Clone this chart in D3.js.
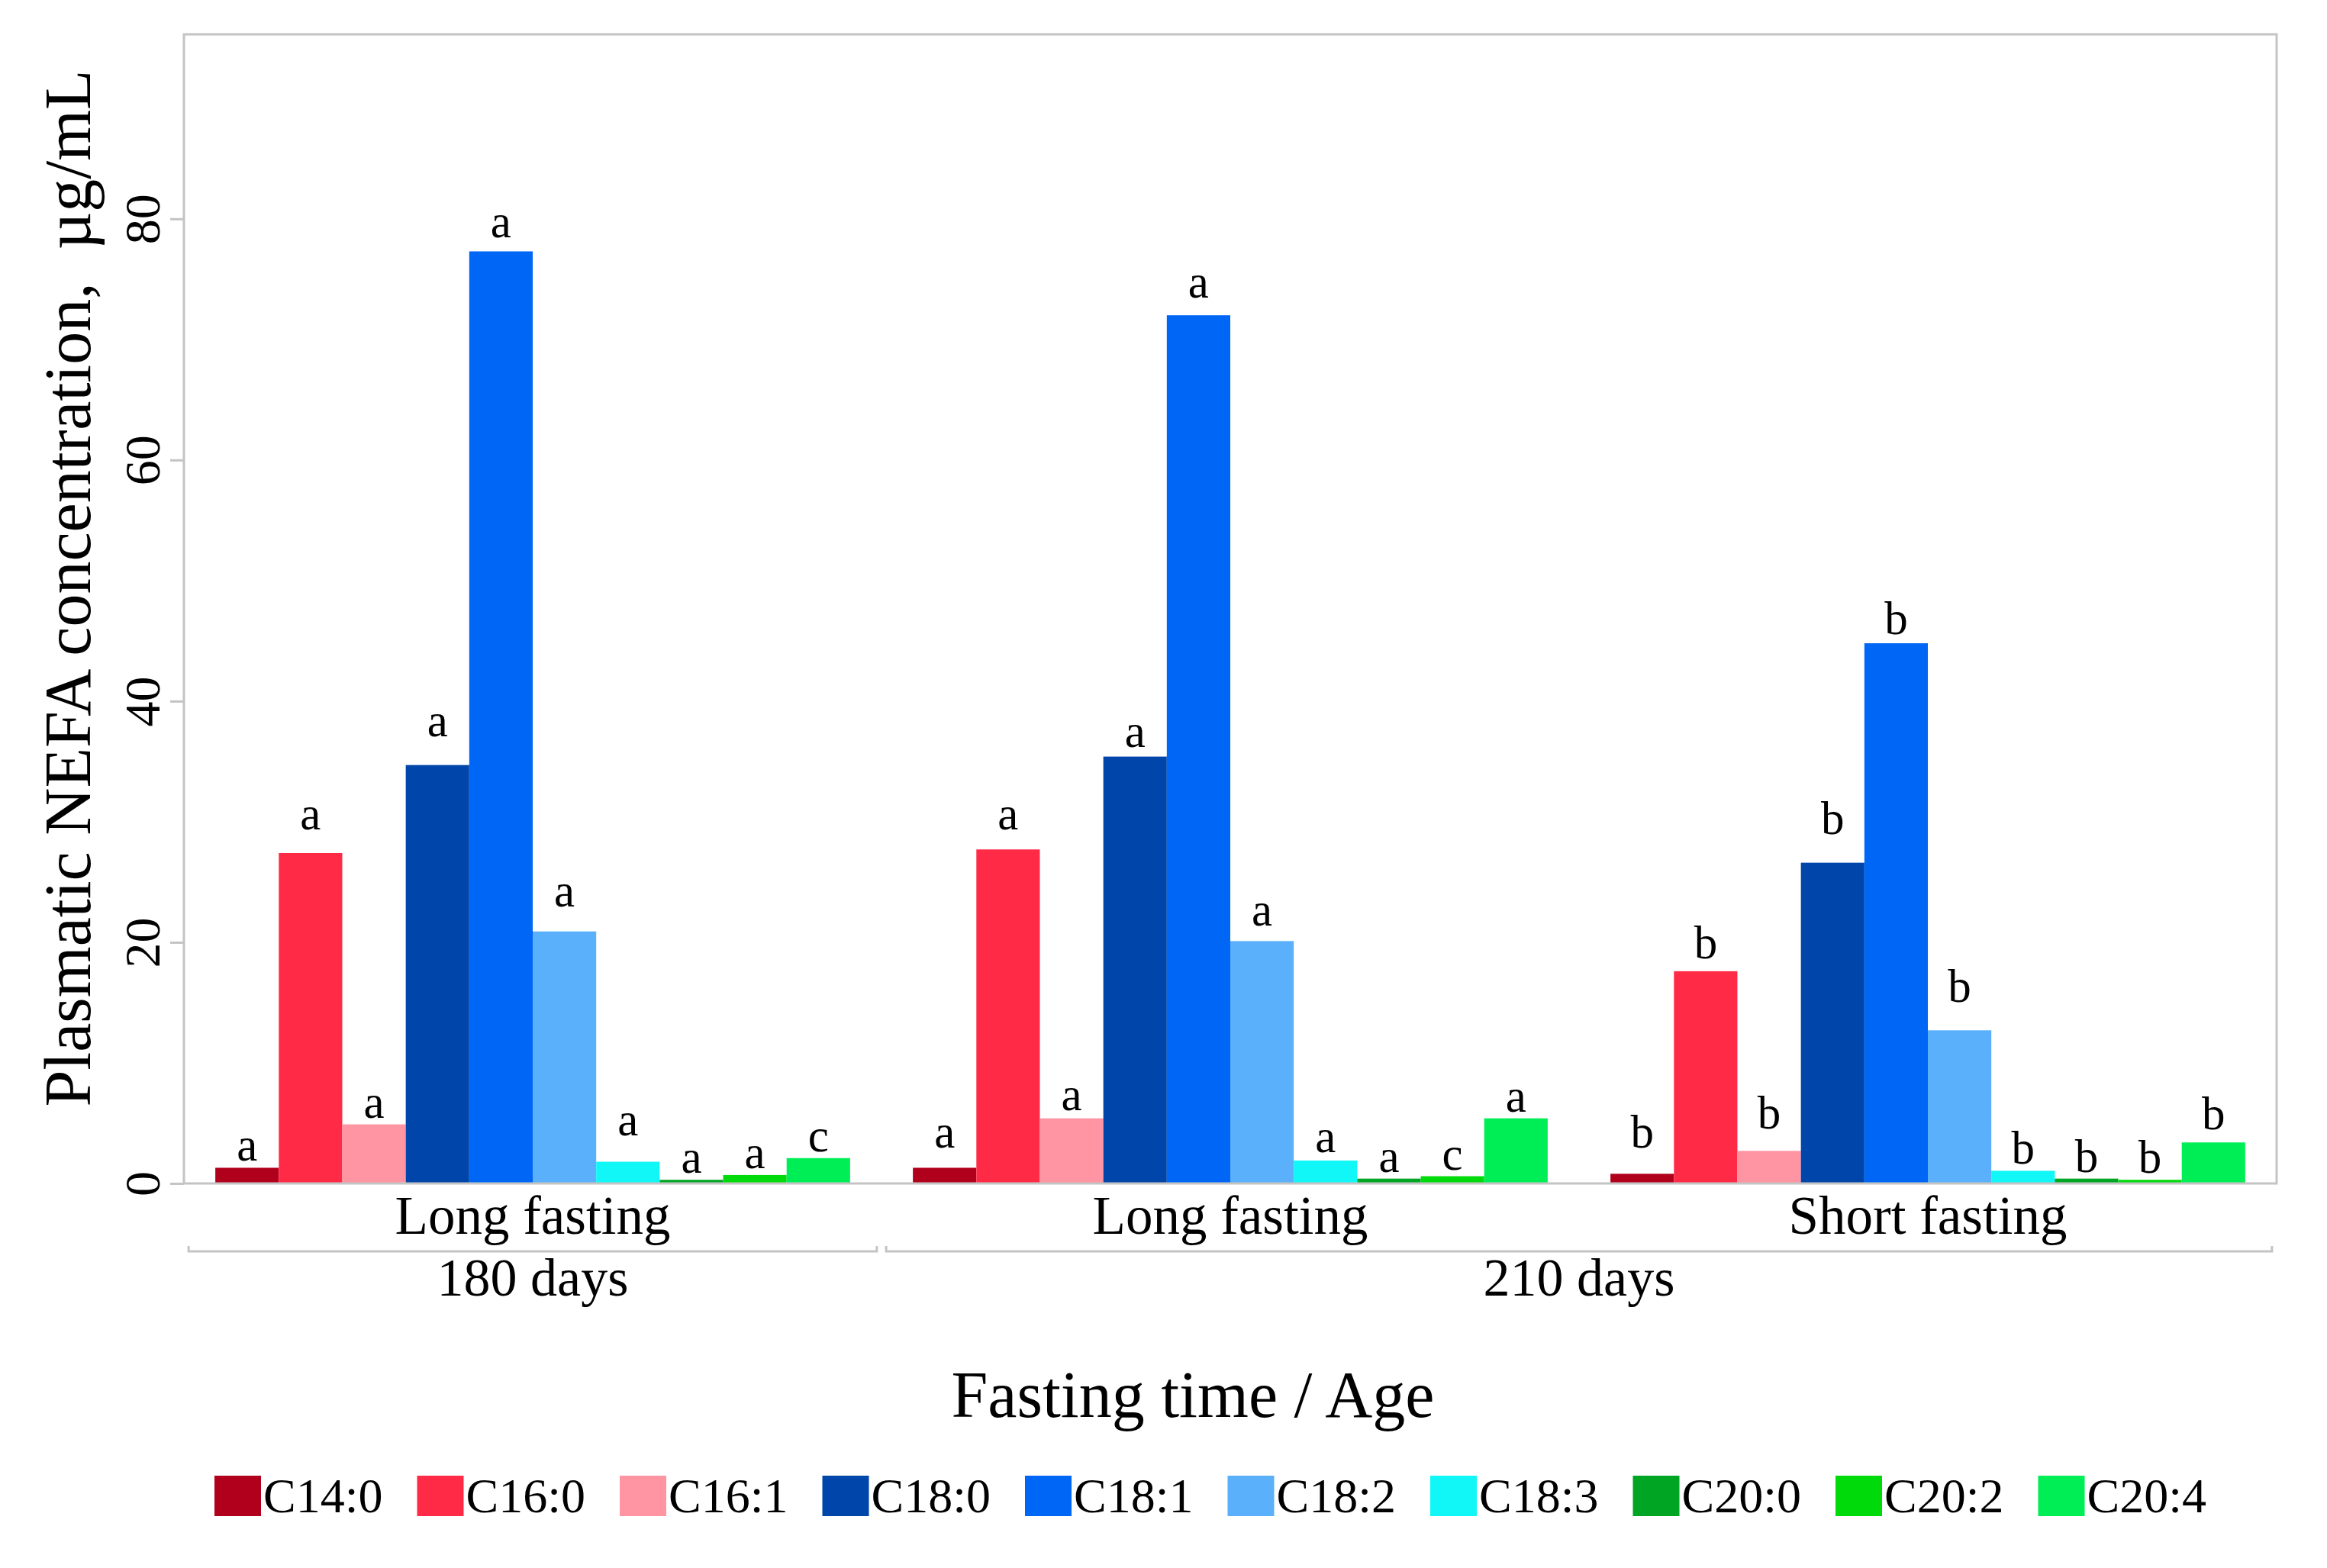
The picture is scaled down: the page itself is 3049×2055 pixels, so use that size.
<!DOCTYPE html>
<html>
<head>
<meta charset="utf-8">
<script src="https://cdn.jsdelivr.net/npm/d3@7"></script>
<style>
  html, body { margin: 0; padding: 0; background: #fff; }
  svg { display: block; }
  text { font-family: "Liberation Serif", "Times New Roman", serif; fill: #000; }
</style>
</head>
<body>
<svg id="chart" width="3049" height="2055"></svg>
<script>
// ---------------- DATA ----------------
const groups = ["180-LF", "210-LF", "210-SF"];
const groupLabels = ["Long fasting", "Long fasting", "Short fasting"];
const ageLabels = ["180 days", "210 days"];
const ageSpans = [[0, 0], [1, 2]];
const series = ["C14:0", "C16:0", "C16:1", "C18:0", "C18:1", "C18:2", "C18:3", "C20:0", "C20:2", "C20:4"];
const colors = ["#B0001C", "#FF2A45", "#FF94A3", "#0046AA", "#0066F5", "#5AB0FA", "#11F7F7", "#00A523", "#00DA0A", "#00EE55"];

const values180Long = [1.3, 27.4, 4.9, 34.7, 77.3, 20.9, 1.8, 0.3, 0.7, 2.1];
const values210Long = [1.3, 27.7, 5.4, 35.4, 72.0, 20.1, 1.9, 0.4, 0.6, 5.4];
const values210Short = [0.8, 17.6, 2.7, 26.6, 44.8, 12.7, 1.05, 0.4, 0.3, 3.4];

const sem180Long = [0.0, 1.4, 0.0, 1.8, 0.6, 1.5, 1.6, 0.0, 0.0, 0.0];
const sem210Long = [1.1, 1.1, 0.1, 0.2, 0.9, 0.7, 0.1, 0.0, 0.0, 0.0];
const sem210Short = [1.6, 0.5, 1.3, 1.8, 0.2, 1.8, 0.0, 0.0, 0.0, 0.5];

const letters180Long = ["a", "a", "a", "a", "a", "a", "a", "a", "a", "c"];
const letters210Long = ["a", "a", "a", "a", "a", "a", "a", "a", "c", "a"];
const letters210Short = ["b", "b", "b", "b", "b", "b", "b", "b", "b", "b"];

const yTicks = [0, 20, 40, 60, 80];
const yMax = 95.3;
const yTitle = "Plasmatic NEFA concentration,  \u00B5g/mL";
const xTitle = "Fasting time / Age";

// ---------------- LAYOUT ----------------
const W = 3049, H = 2055;
const plot = { left: 241, right: 2983, top: 45, bottom: 1551 };
const svg = d3.select("#chart");
svg.append("rect").attr("width", W).attr("height", H).attr("fill", "#fff");

const valueTable = [values180Long, values210Long, values210Short];
const semTable = [sem180Long, sem210Long, sem210Short];
const letterTable = [letters180Long, letters210Long, letters210Short];

const x0 = d3.scaleBand().domain(groups).range([plot.left, plot.right])
  .paddingInner(0.09).paddingOuter(0.045);
const x1 = d3.scaleBand().domain(series).range([0, x0.bandwidth()]).padding(0);
const y = d3.scaleLinear().domain([0, yMax]).range([plot.bottom, plot.top]);
const color = d3.scaleOrdinal().domain(series).range(colors);

const frameColor = "#c4c4c4";

// bars
const data = [];
groups.forEach((g, gi) => {
  series.forEach((s, si) => {
    data.push({ g, s, v: valueTable[gi][si], se: semTable[gi][si], l: letterTable[gi][si] });
  });
});

const barG = svg.append("g");
barG.selectAll("rect").data(data).join("rect")
  .attr("x", d => x0(d.g) + x1(d.s))
  .attr("y", d => y(d.v))
  .attr("width", x1.bandwidth())
  .attr("height", d => y(0) - y(d.v))
  .attr("fill", d => color(d.s));

// letters
barG.selectAll("text").data(data).join("text")
  .attr("x", d => x0(d.g) + x1(d.s) + x1.bandwidth() / 2)
  .attr("y", d => y(d.v + d.se) - 9)
  .attr("text-anchor", "middle")
  .attr("font-size", 61)
  .text(d => d.l);

// frame (top, right, left, bottom)
svg.append("rect")
  .attr("x", plot.left).attr("y", plot.top)
  .attr("width", plot.right - plot.left).attr("height", plot.bottom - plot.top)
  .attr("fill", "none").attr("stroke", frameColor).attr("stroke-width", 3);

// y axis
const yAxis = d3.axisLeft(y).tickValues(yTicks).tickSize(18).tickPadding(10).tickFormat(d3.format("d"));
const yAx = svg.append("g").attr("transform", `translate(${plot.left},0)`).call(yAxis);
yAx.select(".domain").remove();
yAx.selectAll(".tick line").attr("stroke", frameColor).attr("stroke-width", 3);
yAx.selectAll(".tick text")
  .attr("font-size", 66)
  .attr("font-family", "Liberation Serif, serif")
  .attr("fill", "#000")
  .attr("x", null).attr("dy", null)
  .attr("text-anchor", "middle")
  .attr("transform", "translate(-32,0) rotate(-90)");

// category labels
svg.append("g").selectAll("text").data(groups).join("text")
  .attr("x", d => x0(d) + x0.bandwidth() / 2)
  .attr("y", 1617)
  .attr("text-anchor", "middle")
  .attr("font-size", 71)
  .text((d, i) => groupLabels[i]);

// age brackets
const ext = 35;
const bracketY = 1640;
const br = svg.append("g");
ageSpans.forEach((sp, i) => {
  const xa = x0(groups[sp[0]]) - ext;
  const xb = x0(groups[sp[1]]) + x0.bandwidth() + ext;
  br.append("path")
    .attr("d", `M${xa},${bracketY - 7}L${xa},${bracketY}L${xb},${bracketY}L${xb},${bracketY - 7}`)
    .attr("fill", "none").attr("stroke", frameColor).attr("stroke-width", 3);
  br.append("text")
    .attr("x", (x0(groups[sp[0]]) + x0(groups[sp[1]]) + x0.bandwidth()) / 2)
    .attr("y", 1698)
    .attr("text-anchor", "middle")
    .attr("font-size", 70)
    .text(ageLabels[i]);
});

// axis titles
svg.append("text")
  .attr("x", 1563).attr("y", 1857)
  .attr("text-anchor", "middle")
  .attr("font-size", 86)
  .text(xTitle);

svg.append("text")
  .attr("transform", `translate(118, 771) rotate(-90)`)
  .attr("text-anchor", "middle")
  .attr("font-size", 86)
  .style("white-space", "pre")
  .text(yTitle);

// legend
const legStart = 281, legStep = 265.5, legY = 1934;
const leg = svg.append("g");
const items = leg.selectAll("g").data(series).join("g")
  .attr("transform", (d, i) => `translate(${legStart + i * legStep},${legY})`);
items.append("rect").attr("width", 61).attr("height", 53).attr("fill", d => color(d));
items.append("text").attr("x", 64).attr("y", 48).attr("font-size", 64).text(d => d);
</script>
</body>
</html>
